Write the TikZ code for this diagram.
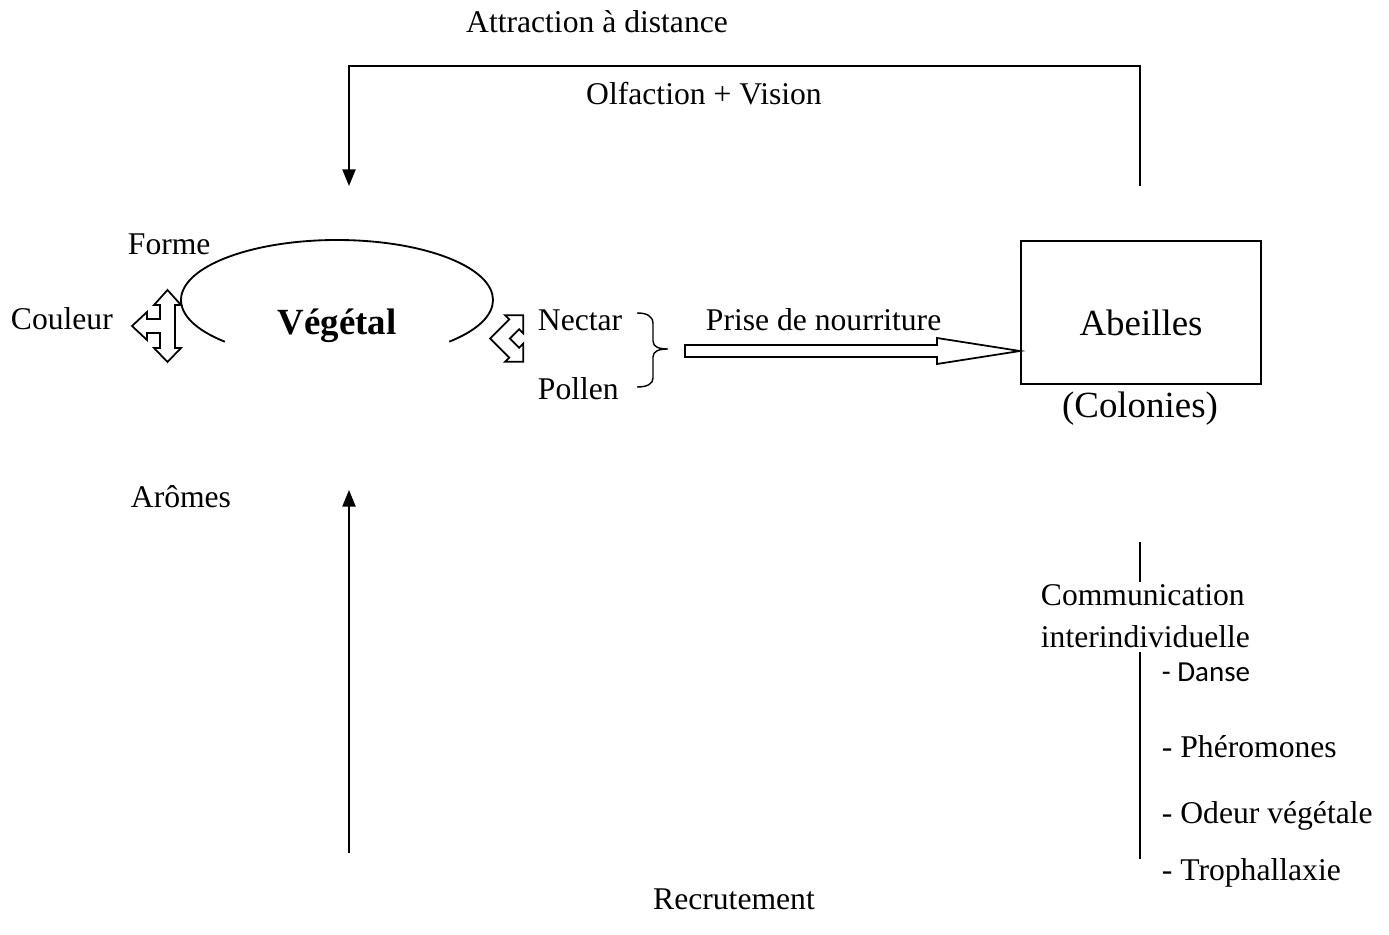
\documentclass[tikz,border=0pt]{standalone}
\usepackage{fontspec}
\setmainfont{Liberation Serif}
\newfontfamily\calib{Carlito}
\usetikzlibrary{arrows.meta}
\begin{document}
\begin{tikzpicture}[x=0.02cm,y=-0.02cm,line width=1.05pt,
  lbl/.style={anchor=base west,inner sep=0pt,font=\fontsize{18}{21}\selectfont},
  lblc/.style={anchor=base,inner sep=0pt,font=\fontsize{18}{21}\selectfont},
  big/.style={anchor=base,inner sep=0pt,font=\fontsize{21}{25}\selectfont},
  sans/.style={anchor=base west,inner sep=0pt,font=\calib\fontsize{16.5}{20}\selectfont},
  tip/.style={-{Triangle[length=9.5pt,width=7.5pt]}},
  hollow/.style={draw,fill=white,line width=1pt,line join=miter},
  boxstyle/.style={draw,line width=1.05pt,minimum width=4.8cm,minimum height=2.86cm,inner sep=0pt}]
\useasboundingbox (0,0) rectangle (1389,935);

% texts
\node[lblc] (attr) at (597,33) {Attraction à distance};
\node[lblc] (olf) at (704,105) {Olfaction + Vision};
\node[lbl] (forme) at (127,255) {Forme};
\node[lbl] (couleur) at (10,330) {Couleur};
\node[lbl] (aromes) at (130,507) {Arômes};
\node[big,font=\bfseries\fontsize{21}{25}\selectfont] (veg) at (337,335) {Végétal};
\node[lbl] (nectar) at (537,331) {Nectar};
\node[lbl] (pollen) at (537,400) {Pollen};
\node[lbl] (prise) at (705,331) {Prise de nourriture};
\node[lblc] (recru) at (734,909) {Recrutement};

% Abeilles box
\node[boxstyle] (box) at (1141,312.5) {};
\node[big] (abeilles) at (1141,336) {Abeilles};
\node[big] (colonies) at (1140,418) {(Colonies)};

% communication
\node[lbl] (comm) at (1040,605) {Communication};
\node[lbl] (inter) at (1040,647) {interindividuelle};
\node[sans] (danse) at (1161,681) {- Danse};
\node[lbl] (phero) at (1161,757) {- Phéromones};
\node[lbl] (odeur) at (1161,823) {- Odeur végétale};
\node[lbl] (troph) at (1161,880) {- Trophallaxie};

% flower outline (open ellipse)
\coordinate (vegc) at (337,300);
\draw (vegc) ++(136:156 and 60) arc[start angle=136,end angle=404,x radius=156,y radius=60];

% top connector Abeilles -> Vegetal
\coordinate (topR) at (1140,186);
\coordinate (topL) at (349,186);
\draw[tip] (topR) -- ++(0,-120) -| (topL);

% bottom arrow (Recrutement) -> Vegetal
\coordinate (recB) at (349,853);
\coordinate (recT) at (349,490);
\draw[tip] (recB) -- (recT);

% right vertical lines
\coordinate (c1a) at (1140,542);
\coordinate (c1b) at (1140,582);
\coordinate (c2a) at (1140,652);
\coordinate (c2b) at (1140,859);
\draw (c1a) -- (c1b);
\draw (c2a) -- (c2b);

% brace
\draw[line width=0.8pt] (637,313) .. controls (647,313) and (653,316) .. (653,324) -- (653,341)
  .. controls (653,347) and (659,349) .. (668,349)
  .. controls (659,349) and (653,351) .. (653,357) -- (653,378)
  .. controls (653,384) and (647,387) .. (637,387);

% hollow arrow Prise de nourriture
\draw[hollow] (685,345) -- (937,345) -- (937,338) -- (1020,351) -- (937,364) -- (937,357) -- (685,357) -- cycle;

% three-way arrow at Couleur
\draw[hollow] (167.5,290) -- (181,305) -- (175,305) -- (175,348) -- (181,348) -- (167.5,362)
  -- (154,348) -- (160,348) -- (160,333) -- (147,333) -- (147,340) -- (132,326) -- (147,312)
  -- (147,319) -- (160,319) -- (160,305) -- (154,305) -- cycle;

% bent double arrow at Nectar
\draw[hollow] (490.1,338.5) -- (509.2,319.4) -- (505.0,315.2) -- (523.3,315.2) -- (523.3,333.5)
  -- (519.1,329.3) -- (509.9,338.5) -- (519.1,347.7) -- (523.3,343.5) -- (523.3,361.8)
  -- (505.0,361.8) -- (509.2,357.6) -- cycle;
\end{tikzpicture}
\end{document}
